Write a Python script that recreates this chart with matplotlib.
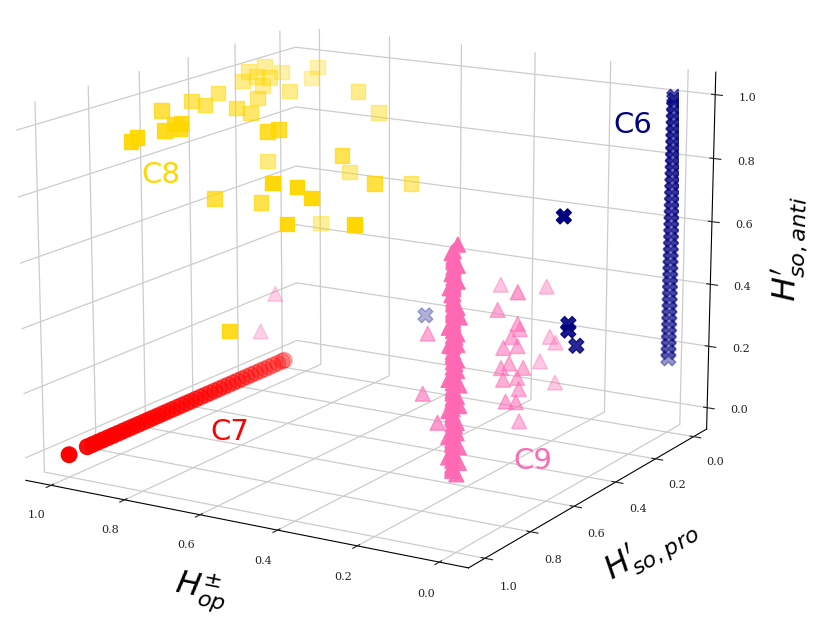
import numpy as np
import matplotlib
matplotlib.use("Agg")
import matplotlib.pyplot as plt

# ---- data ----
# C6: column at H_op=0, H_so,pro=0 plus a few stray points
c6_col_z = [0.17, 0.19, 0.21, 0.23, 0.25, 0.27, 0.29, 0.31, 0.33, 0.35, 0.37, 0.39, 0.41,
            0.43, 0.45, 0.47, 0.49, 0.51, 0.53, 0.55, 0.57, 0.59, 0.61, 0.63, 0.65, 0.67,
            0.69, 0.71, 0.73, 0.75, 0.77, 0.79, 0.81, 0.83, 0.85, 0.87, 0.89, 0.91, 0.93,
            0.95, 0.97, 0.99, 1.0]
c6_x = [0.06, 0.05, 0.05, 0.05, 0.54]
c6_y = [0.42, 0.41, 0.41, 0.37, 0.20]
c6_z = [0.73, 0.40, 0.38, 0.32, 0.27]

# C7: line at H_op=1, H_so,anti=0
c7_y = [1.0, 0.93, 0.91, 0.89, 0.87, 0.85, 0.83, 0.81, 0.79, 0.77, 0.75, 0.73, 0.71, 0.69,
        0.67, 0.65, 0.63, 0.61, 0.59, 0.57, 0.55, 0.53, 0.51, 0.49, 0.47, 0.45, 0.43, 0.41,
        0.39, 0.37, 0.35, 0.33, 0.31, 0.29, 0.27, 0.25, 0.23, 0.21, 0.19, 0.17, 0.15, 0.13,
        0.11, 0.10]

# C8: scattered squares
c8_x = [0.85, 0.84, 0.94, 0.83, 0.85, 0.84, 0.81, 0.96, 0.93, 0.96, 0.89, 0.99, 1.00, 0.99,
        0.91, 0.87, 1.00, 0.96, 0.98, 0.99, 0.89, 0.67, 0.66, 0.89, 0.56, 0.51, 0.48, 0.74,
        0.80, 0.53, 0.83, 0.37, 0.61, 0.75, 0.50, 0.58, 0.73, 0.75, 0.95, 0.95, 0.65]
c8_y = [0.95, 0.94, 0.70, 0.85, 0.78, 0.77, 0.82, 0.55, 0.54, 0.44, 0.47, 0.29, 0.25, 0.23,
        0.35, 0.44, 0.18, 0.22, 0.22, 0.12, 0.24, 0.68, 0.65, 0.34, 0.83, 0.81, 0.80, 0.60,
        0.70, 0.82, 0.20, 0.80, 0.46, 0.20, 0.50, 0.20, 0.10, 0.16, 0.02, 0.05, 0.87]
c8_z = [0.97, 0.98, 0.99, 0.98, 0.98, 0.98, 0.98, 0.98, 0.97, 0.98, 0.95, 0.98, 1.00, 0.98,
        0.95, 0.93, 1.00, 0.98, 0.95, 0.97, 0.95, 0.96, 0.96, 0.75, 0.86, 0.85, 0.82, 0.71,
        0.74, 0.74, 0.52, 0.76, 0.84, 0.70, 0.78, 0.69, 0.87, 0.95, 0.97, 0.94, 0.41]

# C9: dense column near H_op=0, H_so,pro=1 plus scattered triangles
c9_col_x = [0.00, 0.01, 0.00, 0.02, 0.01, 0.00, 0.01, 0.02, 0.00, 0.01,
            0.00, 0.01, 0.02, 0.00, 0.01, 0.00, 0.01, 0.00, 0.02, 0.01,
            0.00, 0.01, 0.00, 0.01, 0.03, 0.00, 0.01, 0.00, 0.02, 0.01,
            0.00, 0.01, 0.00, 0.01, 0.02, 0.03, 0.01, 0.00, 0.02, 0.01,
            0.00, 0.01, 0.02, 0.00]
c9_col_y = [1.0, 1.0, 0.99, 1.0, 1.0, 0.99, 1.0, 1.0, 1.0, 0.99,
            1.0, 1.0, 1.0, 0.99, 1.0, 1.0, 1.0, 0.99, 1.0, 1.0,
            1.0, 0.99, 1.0, 1.0, 0.98, 1.0, 0.99, 1.0, 1.0, 1.0,
            0.99, 1.0, 1.0, 1.0, 0.99, 0.98, 1.0, 1.0, 0.99, 1.0,
            1.0, 1.0, 0.99, 1.0]
c9_col_z = [0.16, 0.175, 0.19, 0.205, 0.22, 0.235, 0.25, 0.265, 0.28, 0.295,
            0.31, 0.325, 0.34, 0.355, 0.37, 0.385, 0.40, 0.415, 0.43, 0.445,
            0.46, 0.475, 0.49, 0.505, 0.52, 0.535, 0.55, 0.565, 0.58, 0.595,
            0.61, 0.625, 0.64, 0.655, 0.67, 0.685, 0.70, 0.715, 0.73, 0.745,
            0.76, 0.775, 0.79, 0.82]
c9_col_z_fill = [0.168, 0.183, 0.198, 0.213, 0.228, 0.243, 0.258, 0.273, 0.288, 0.303,
                 0.318, 0.333, 0.348, 0.363, 0.378, 0.393, 0.408, 0.423, 0.438, 0.453,
                 0.468, 0.483, 0.498, 0.513, 0.528, 0.543, 0.558, 0.573, 0.588, 0.603,
                 0.618, 0.633, 0.648, 0.663, 0.678, 0.693, 0.708, 0.723, 0.738, 0.753,
                 0.768, 0.783, 0.80]
c9_x = [0.36, 0.32, 0.32, 0.26, 0.23, 0.36, 0.20, 0.20, 0.21, 0.25, 0.24, 0.22, 0.20, 0.27,
        0.22, 0.21, 0.19, 0.22, 0.20, 0.19, 0.24, 0.18, 0.17, 0.21, 0.32, 0.23, 0.89, 0.90]
c9_y = [0.16, 0.15, 0.15, 0.12, 0.41, 0.50, 0.37, 0.36, 0.38, 0.12, 0.11, 0.40, 0.37, 0.13,
        0.41, 0.39, 0.36, 0.40, 0.37, 0.38, 0.11, 0.46, 0.43, 0.34, 0.59, 0.68, 0.31, 0.36]
c9_z = [0.39, 0.37, 0.37, 0.39, 0.41, 0.34, 0.36, 0.34, 0.32, 0.23, 0.21, 0.29, 0.29, 0.15,
        0.23, 0.24, 0.22, 0.19, 0.19, 0.16, 0.08, 0.15, 0.14, 0.04, 0.19, 0.15, 0.31, 0.20]

cluster_names = ['C6', 'C7', 'C8', 'C9']
cluster_colors = ['navy', 'red', 'gold', 'hotpink']
label_pos = [(0.05, 0.11, 0.93), (0.68, 0.83, 0.08), (0.87, 0.81, 0.83), (0.04, 0.59, 0.04)]

ticks = [0.0, 0.2, 0.4, 0.6, 0.8, 1.0]

# ---- plot ----
fig = plt.figure(figsize=(8.31, 6.25), dpi=100)
ax = fig.add_axes([-0.0595, 0.048, 1, 1], projection='3d')

ax.scatter([0] * len(c6_col_z) + c6_x, [0] * len(c6_col_z) + c6_y, c6_col_z + c6_z,
           c='navy', marker='X', s=115)
ax.scatter([1] * len(c7_y), c7_y, [0] * len(c7_y), c='red', marker='o', s=125)
ax.scatter(c8_x, c8_y, c8_z, c='gold', marker='s', s=110)
n_fill = len(c9_col_z_fill)
ax.scatter(c9_col_x + [0.01] * n_fill + c9_x,
           c9_col_y + [1.0] * n_fill + c9_y,
           c9_col_z + c9_col_z_fill + c9_z,
           c='hotpink', marker='^', s=115)

for name, col, (px, py, pz) in zip(cluster_names, cluster_colors, label_pos):
    ax.text(px, py, pz, name, color=col, fontsize=21, ha='center', va='center')

ax.set_xlim(-0.07, 1.07)
ax.set_ylim(-0.07, 1.07)
ax.set_zlim(-0.07, 1.07)
ax.view_init(elev=14.5, azim=121)
ax.set_box_aspect(None, zoom=1.25)

for a in (ax.xaxis, ax.yaxis, ax.zaxis):
    a.set_pane_color((1, 1, 1, 0))
    a.pane.set_edgecolor((1, 1, 1, 0))
    a._axinfo['grid']['color'] = '#cccccc'
    a._axinfo['grid']['linewidth'] = 0.9
    a.offsetText.set_visible(False)
ax.zaxis.set_ticks_position('lower')
ax.zaxis.set_label_position('lower')

ax.set_xticks(ticks)
ax.set_yticks(ticks)
ax.set_zticks(ticks)
ax.tick_params(labelsize=8, colors='#222222')
for lab in ax.get_xticklabels() + ax.get_yticklabels() + ax.get_zticklabels():
    lab.set_family('DejaVu Serif')

ax.set_xlabel(r'$H^{\pm}_{op}$', fontsize=23, labelpad=9)
ax.set_ylabel(r"$H^{\prime}_{so,pro}$", fontsize=23, labelpad=8)
ax.set_zlabel(r"$H^{\prime}_{so,anti}$", fontsize=23, labelpad=7)

fig.savefig('out.png', dpi=100)
